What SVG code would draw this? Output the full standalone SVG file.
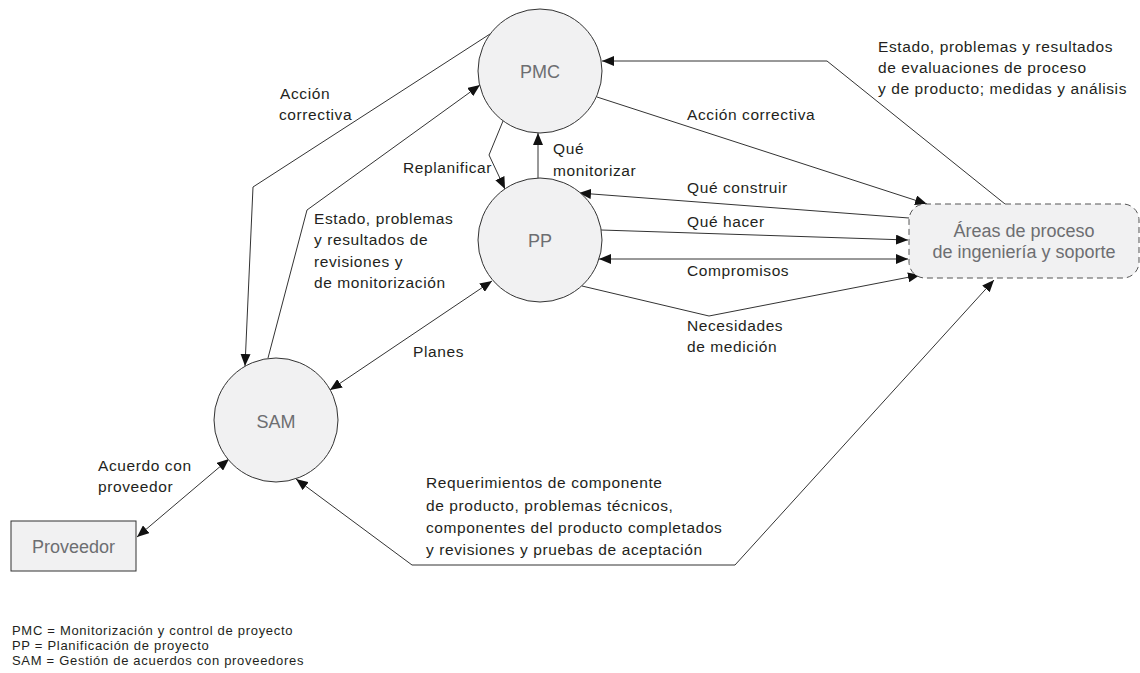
<svg xmlns="http://www.w3.org/2000/svg" width="1140" height="673" viewBox="0 0 1140 673">
<style>
.lbl{font-family:"Liberation Sans",Arial,sans-serif;font-size:15.5px;fill:#231f20;letter-spacing:0.6px}
.node{font-family:"Liberation Sans",Arial,sans-serif;font-size:18px;fill:#6d6e71;text-anchor:middle}
.leg{font-family:"Liberation Sans",Arial,sans-serif;font-size:13px;fill:#231f20;letter-spacing:0.7px}
.circ{fill:#f1f1f2;stroke:#333;stroke-width:1}
.con path{fill:none;stroke:#333;stroke-width:1}
</style>
<defs>
<marker id="ah" viewBox="0 0 12 10" refX="12" refY="5" markerWidth="12" markerHeight="10" markerUnits="userSpaceOnUse" orient="auto-start-reverse">
<path d="M0,0 L12,5 L0,10 z" fill="#111"/>
</marker>
</defs>
<rect width="1140" height="673" fill="#fff"/>

<g class="con" id="connectors">
<path d="M490,34 L253,187 L245,366" marker-end="url(#ah)"/>
<path d="M268,358 L307,210 L480,85" marker-end="url(#ah)"/>
<path d="M503,121 L489,155 L505,189" marker-end="url(#ah)"/>
<path d="M538,178 L538,133" marker-end="url(#ah)"/>
<path d="M1005,204 L827,61 L602,61" marker-end="url(#ah)"/>
<path d="M597,97 L927,204" marker-end="url(#ah)"/>
<path d="M909,218 L579,193" marker-end="url(#ah)"/>
<path d="M601,230 L908,240" marker-end="url(#ah)"/>
<path d="M599,259 L908,259" marker-start="url(#ah)" marker-end="url(#ah)"/>
<path d="M582,286 L709,316 L920,275" marker-end="url(#ah)"/>
<path d="M330,390 L492,281" marker-start="url(#ah)" marker-end="url(#ah)"/>
<path d="M137,537 L229,459" marker-start="url(#ah)" marker-end="url(#ah)"/>
<path d="M296,479 L412,565 L735,565 L994,280" marker-start="url(#ah)" marker-end="url(#ah)"/>
</g>

<g id="pmc">
<circle class="circ" cx="540" cy="71" r="62"/>
<text class="node" x="540" y="78">PMC</text>
</g>
<g id="pp">
<circle class="circ" cx="540" cy="240" r="62"/>
<text class="node" x="540" y="247">PP</text>
</g>
<g id="sam">
<circle class="circ" cx="276" cy="420" r="62"/>
<text class="node" x="276" y="428">SAM</text>
</g>
<g id="proveedor">
<rect x="11" y="521" width="125" height="50" fill="#f1f1f2" stroke="#333" stroke-width="1"/>
<text class="node" x="73.5" y="553">Proveedor</text>
</g>
<g id="areas">
<rect x="909" y="204" width="230" height="74" rx="16" fill="#f1f1f2" stroke="#555" stroke-width="1" stroke-dasharray="6,4"/>
<text class="node" x="1024" y="237">Áreas de proceso</text>
<text class="node" x="1024" y="258">de ingeniería y soporte</text>
</g>

<g id="labels">
<text class="lbl" x="280" y="99">Acción</text>
<text class="lbl" x="279" y="120">correctiva</text>
<text class="lbl" x="403" y="173">Replanificar</text>
<text class="lbl" x="553" y="154">Qué</text>
<text class="lbl" x="553" y="176">monitorizar</text>
<text class="lbl" x="314" y="224">Estado, problemas</text>
<text class="lbl" x="314" y="245">y resultados de</text>
<text class="lbl" x="314" y="267">revisiones y</text>
<text class="lbl" x="314" y="288">de monitorización</text>
<text class="lbl" x="413" y="357">Planes</text>
<text class="lbl" x="878" y="52">Estado, problemas y resultados</text>
<text class="lbl" x="878" y="73">de evaluaciones de proceso</text>
<text class="lbl" x="878" y="94">y de producto; medidas y análisis</text>
<text class="lbl" x="687" y="120">Acción correctiva</text>
<text class="lbl" x="687" y="193">Qué construir</text>
<text class="lbl" x="687" y="227">Qué hacer</text>
<text class="lbl" x="687" y="276">Compromisos</text>
<text class="lbl" x="687" y="331">Necesidades</text>
<text class="lbl" x="687" y="352">de medición</text>
<text class="lbl" x="98" y="471">Acuerdo con</text>
<text class="lbl" x="98" y="492">proveedor</text>
<text class="lbl" x="426" y="488">Requerimientos de componente</text>
<text class="lbl" x="426" y="511">de producto, problemas técnicos,</text>
<text class="lbl" x="426" y="533">componentes del producto completados</text>
<text class="lbl" x="426" y="555">y revisiones y pruebas de aceptación</text>
</g>

<g id="legend">
<text class="leg" x="12" y="635">PMC = Monitorización y control de proyecto</text>
<text class="leg" x="12" y="650">PP = Planificación de proyecto</text>
<text class="leg" x="12" y="665">SAM = Gestión de acuerdos con proveedores</text>
</g>
</svg>
